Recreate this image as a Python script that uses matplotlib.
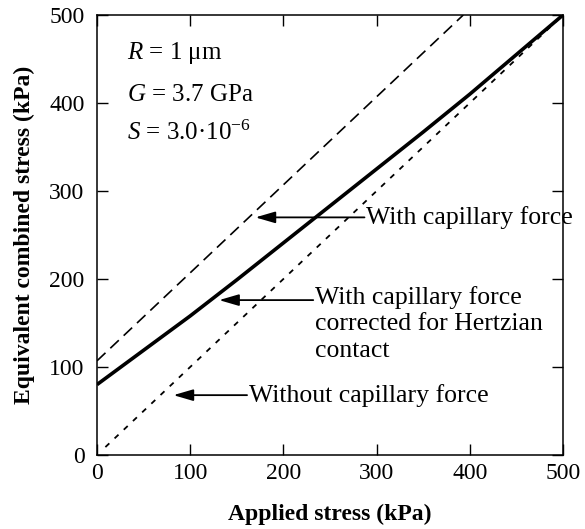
import matplotlib
matplotlib.use("Agg")
import matplotlib.pyplot as plt

# Werte (kPa)
applied_hertz = [0, 50, 100, 150, 200, 250, 300, 350, 400, 450, 500]
stress_hertz = [80, 119, 158, 199, 241, 283, 325, 367, 410, 455, 500]

applied_cap = [0, 393]
stress_cap = [107, 500]

applied_nocap = [9, 500]
stress_nocap = [9, 500]

x_ticks = [0, 100, 200, 300, 400, 500]
y_ticks = [0, 100, 200, 300, 400, 500]

plt.rcParams['font.family'] = ['Liberation Serif', 'DejaVu Serif']
plt.rcParams['mathtext.fontset'] = 'custom'
plt.rcParams['mathtext.rm'] = 'Liberation Serif'
plt.rcParams['mathtext.it'] = 'Liberation Serif:italic'

fig = plt.figure(figsize=(5.85, 5.29), dpi=100)
ax = fig.add_axes([0.1658, 0.1399, 0.7966, 0.8318])

ax.plot(applied_hertz, stress_hertz, color='black', lw=2.6, solid_capstyle='butt')
ax.plot(applied_cap, stress_cap, color='black', lw=1.2, linestyle=(0, (7, 4)))
ax.plot(applied_nocap, stress_nocap, color='black', lw=1.3, linestyle=(0, (3, 4)))

ax.set_xlim(0, 500)
ax.set_ylim(0, 500)
ax.set_xticks(x_ticks)
ax.set_yticks(y_ticks)
ax.tick_params(direction='in', length=8, width=1, top=True, right=True,
               labelsize=17)
ax.tick_params(axis='y', pad=9)
ax.tick_params(axis='x', pad=6)
for sp in ax.spines.values():
    sp.set_linewidth(1.1)

ax.set_xlabel('Applied stress (kPa)', fontsize=17, fontweight='bold', labelpad=14)
ax.set_ylabel('Equivalent combined stress (kPa)', fontsize=17, fontweight='bold', labelpad=10)

# Parameter
ax.text(32, 457, '$R$ = 1 μm', fontsize=18, va='center')
ax.text(32, 409, '$G$ = 3.7 GPa', fontsize=18, va='center')
ax.text(32, 366, '$S$ = 3.0·10$^{−6}$', fontsize=18, va='center')

# Pfeile mit Beschriftung
arrow = dict(arrowstyle='-|>,head_length=1.2,head_width=0.35', color='black',
             lw=1.3, mutation_scale=10, shrinkA=0, shrinkB=0)

ax.annotate('', xy=(170, 270), xytext=(287, 270), arrowprops=arrow)
ax.text(289, 270, 'With capillary force', fontsize=18.5, va='center')

ax.annotate('', xy=(131, 176), xytext=(232, 176), arrowprops=arrow)
ax.text(234, 192, 'With capillary force\ncorrected for Hertzian\ncontact',
        fontsize=18.5, va='top', linespacing=1.25)

ax.annotate('', xy=(82, 68), xytext=(161, 68), arrowprops=arrow)
ax.text(163, 68, 'Without capillary force', fontsize=18.5, va='center')

fig.savefig('out.png', dpi=100)
